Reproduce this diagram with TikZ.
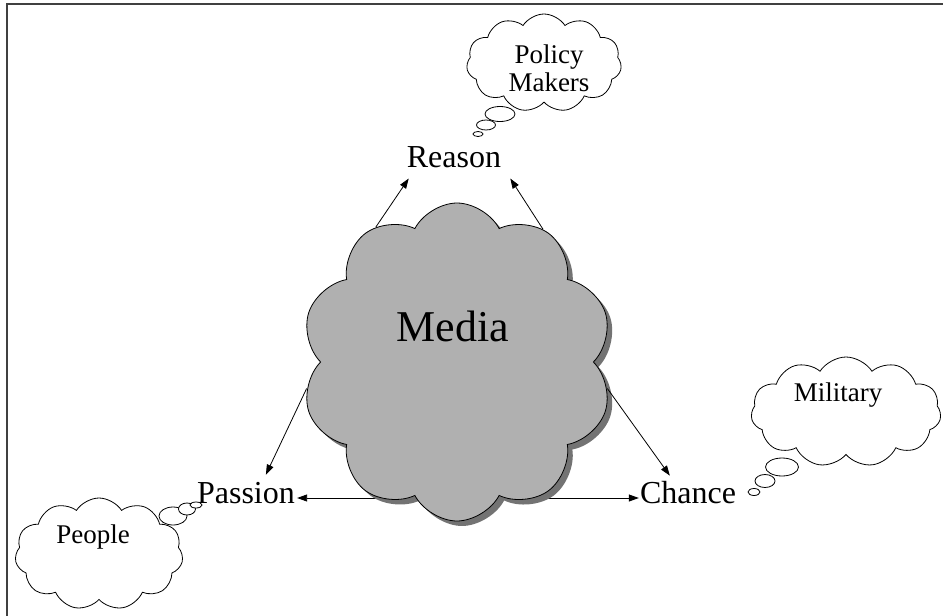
\documentclass[tikz,border=0pt]{standalone}
\usepackage{fontspec}
\setmainfont{Liberation Serif}
\usetikzlibrary{shapes.symbols,shapes.geometric,shadows,arrows.meta}
\tikzset{
  bigcloud/.style={cloud, cloud puffs=10, cloud puff arc=125, cloud ignores aspect, draw=black, line width=0.8pt, fill=gray!62,
    drop shadow={shadow xshift=5pt, shadow yshift=-5pt, opacity=1, fill=black!55}},
  thought/.style={cloud, cloud puffs=11, cloud puff arc=115, cloud ignores aspect, draw=black, line width=0.8pt, fill=white},
  bubble/.style={ellipse, draw=black, line width=0.8pt, fill=white, inner sep=0pt},
  mainlbl/.style={font=\fontsize{32}{34}\selectfont, inner sep=0pt, anchor=base},
  smalllbl/.style={font=\fontsize{27}{28}\selectfont, inner sep=0pt, align=center},
  arr/.style={line width=0.8pt, -{Triangle[length=10pt,width=7pt]}},
  frame/.style={line width=2pt, black!75}
}
\begin{document}
\begin{tikzpicture}[x=1pt,y=-1pt]
\useasboundingbox (0,0) rectangle (943,616);
\fill[white] (0,0) rectangle (943,616);
\draw[frame] (7,616) -- (7,4) -- (943,4);

% labels
\node[mainlbl] (reason) at (454,167) {Reason};
\node[mainlbl] (passion) at (246,503) {Passion};
\node[mainlbl] (chance) at (688,503) {Chance};

% horizontal connector behind the cloud
\draw[line width=0.8pt, {Triangle[length=10pt,width=7pt]}-{Triangle[length=10pt,width=7pt]}] ([xshift=2pt,yshift=5pt]passion.base east) coordinate (pl) -- ([xshift=-1pt,yshift=5pt]chance.base west) coordinate (cr);

% media cloud
\node[bigcloud, minimum width=312pt, minimum height=318pt] (media) at (457,362) {};
\node[font=\fontsize{44}{46}\selectfont, inner sep=0pt, anchor=base] (medialbl) at (453,341) {Media};

% arrows from media
\draw[arr] (media.121) -- ([xshift=2pt,yshift=-11pt]reason.south west);
\draw[arr] (media.57) -- ([xshift=9pt,yshift=-11pt]reason.south east);
\draw[arr] (media.190) -- ([xshift=69pt,yshift=7pt]passion.north west);
\draw[arr] (media.350) -- ([xshift=30pt,yshift=5pt]chance.north west);

% policy makers
\node[thought, minimum width=155pt, minimum height=98pt] (policy) at (544,63) {};
\node[smalllbl] (policylbl) at (549,68) {Policy\\Makers};
\node[bubble, minimum width=30pt, minimum height=15pt] (pb1) at (500,114) {};
\node[bubble, minimum width=19pt, minimum height=10pt] (pb2) at (486,125) {};
\node[bubble, minimum width=10pt, minimum height=5pt] (pb3) at (478,134) {};

% military
\node[thought, minimum width=190pt, minimum height=110pt] (military) at (846,412) {};
\node[smalllbl] (militarylbl) at (838,395) {Military};
\node[bubble, minimum width=33pt, minimum height=18pt] (mb1) at (782,467) {};
\node[bubble, minimum width=20pt, minimum height=13pt] (mb2) at (765,481) {};
\node[bubble, minimum width=12pt, minimum height=7pt] (mb3) at (754,492) {};

% people
\node[thought, minimum width=168pt, minimum height=112pt] (people) at (99,554) {};
\node[smalllbl] (peoplelbl) at (93,537) {People};
\node[bubble, minimum width=28pt, minimum height=18pt] (qb1) at (173,516) {};
\node[bubble, minimum width=17pt, minimum height=12pt] (qb2) at (187,509) {};
\node[bubble, minimum width=12pt, minimum height=6pt] (qb3) at (196,505) {};
\end{tikzpicture}
\end{document}
